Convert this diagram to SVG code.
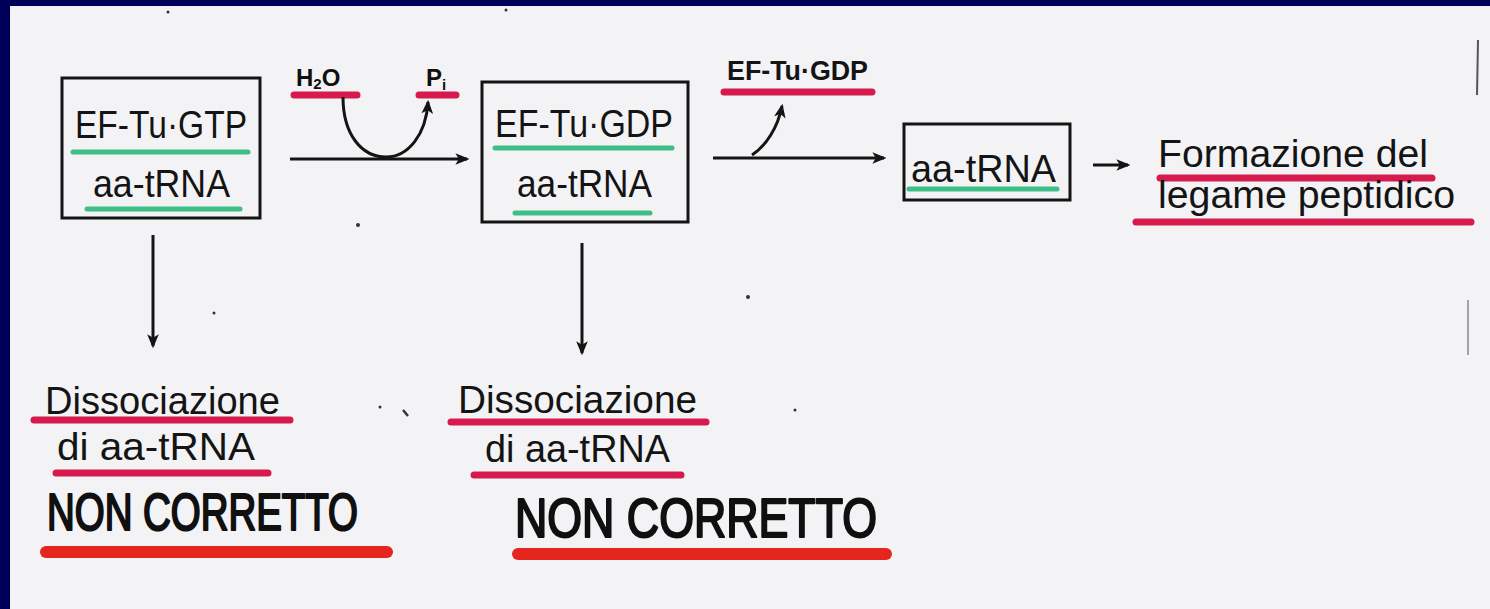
<svg xmlns="http://www.w3.org/2000/svg" width="1490" height="609" viewBox="0 0 1490 609">
<defs>
<style>
.t{font-family:"Liberation Sans",Arial,sans-serif;fill:#141414;font-size:38px}
.b{font-family:"Liberation Sans",Arial,sans-serif;fill:#141414;font-weight:bold}
.h{font-family:"Liberation Sans",Arial,sans-serif;fill:#101010;font-weight:bold}
.hw{font-family:"Liberation Sans",Arial,sans-serif;fill:#101010;stroke:#101010;stroke-width:1.6;stroke-linejoin:round}
.box{fill:none;stroke:#141414;stroke-width:3}
.g{stroke:#3fbf88;stroke-width:5;stroke-linecap:round;fill:none}
.m{stroke:#d61a4e;stroke-width:7;stroke-linecap:round;fill:none}
.r{stroke:#e4261e;stroke-width:12;stroke-linecap:round;fill:none}
.c{stroke:#141414;stroke-width:3;fill:none}
</style>
<marker id="ah" viewBox="0 0 12 10" refX="10" refY="5" markerWidth="14" markerHeight="12" markerUnits="userSpaceOnUse" orient="auto">
<path d="M0,0 L12,5 L0,10 L3,5 z" fill="#141414"/>
</marker>
</defs>
<rect x="0" y="0" width="1490" height="609" fill="#00005a"/>
<rect x="10" y="6" width="1480" height="603" fill="#f3f2f5"/>

<g id="box1">
<rect class="box" x="62" y="78" width="198" height="140"/>
<line class="g" x1="73" y1="152" x2="248" y2="152"/>
<line class="g" x1="87" y1="209" x2="240" y2="209"/>
<text class="t" x="75" y="138" textLength="172" lengthAdjust="spacingAndGlyphs">EF-Tu·GTP</text>
<text class="t" x="93" y="197" textLength="137" lengthAdjust="spacingAndGlyphs">aa-tRNA</text>
</g>

<g id="h2o">
<line class="m" x1="294" y1="95" x2="357" y2="95"/>
<text class="h" x="296" y="86" font-size="24">H<tspan font-size="15" dy="3">2</tspan><tspan dy="-3">O</tspan></text>
</g>
<g id="pi">
<line class="m" x1="419" y1="95" x2="456" y2="95"/>
<text class="h" x="426" y="86" font-size="24">P<tspan font-size="15" dy="4">i</tspan></text>
</g>

<g id="box2">
<rect class="box" x="482" y="82" width="206" height="140"/>
<line class="g" x1="495" y1="148" x2="672" y2="148"/>
<line class="g" x1="515" y1="213" x2="650" y2="213"/>
<text class="t" x="495" y="137" textLength="178" lengthAdjust="spacingAndGlyphs">EF-Tu·GDP</text>
<text class="t" x="517" y="197" textLength="135" lengthAdjust="spacingAndGlyphs">aa-tRNA</text>
</g>

<g id="eftugdp">
<line class="m" x1="724" y1="92" x2="872" y2="92"/>
<text class="b" x="727" y="80" font-size="27" textLength="141" lengthAdjust="spacingAndGlyphs">EF-Tu·GDP</text>
</g>

<g id="box3">
<rect class="box" x="904" y="124" width="166" height="76"/>
<line class="g" x1="909" y1="189" x2="1057" y2="189"/>
<text class="t" x="911" y="182" textLength="145" lengthAdjust="spacingAndGlyphs">aa-tRNA</text>
</g>

<g id="peptide">
<line class="m" x1="1160" y1="178" x2="1432" y2="178" stroke="#d41a62"/>
<line class="m" x1="1136" y1="222" x2="1471" y2="222" stroke="#e31c2c" stroke-width="8"/>
<text class="t" x="1158" y="167" textLength="270" lengthAdjust="spacingAndGlyphs">Formazione del</text>
<text class="t" x="1158" y="208" textLength="297" lengthAdjust="spacingAndGlyphs">legame peptidico</text>
</g>

<g id="diss1">
<line class="m" x1="34" y1="420" x2="290" y2="420"/>
<line class="m" x1="56" y1="473" x2="268" y2="473"/>
<line class="r" x1="46" y1="552" x2="387" y2="552"/>
<text class="t" x="45" y="414" textLength="235" lengthAdjust="spacingAndGlyphs">Dissociazione</text>
<text class="t" x="57" y="460" textLength="198" lengthAdjust="spacingAndGlyphs">di aa-tRNA</text>
<text class="hw" transform="translate(47,530) scale(1,1.38)" x="0" y="0" font-size="38" textLength="311" lengthAdjust="spacingAndGlyphs">NON CORRETTO</text>
</g>

<g id="diss2">
<line class="m" x1="451" y1="422" x2="706" y2="422"/>
<line class="m" x1="474" y1="475" x2="681" y2="475"/>
<line class="r" x1="518" y1="554" x2="886" y2="554"/>
<text class="t" x="458" y="413" textLength="239" lengthAdjust="spacingAndGlyphs">Dissociazione</text>
<text class="t" x="485" y="462" textLength="185" lengthAdjust="spacingAndGlyphs">di aa-tRNA</text>
<text class="hw" transform="translate(515,537) scale(1,1.4)" x="0" y="0" font-size="40" textLength="362" lengthAdjust="spacingAndGlyphs">NON CORRETTO</text>
</g>

<g id="connectors">
<line class="c" x1="290" y1="159" x2="467" y2="159" marker-end="url(#ah)"/>
<path class="c" d="M343,97 C343,135 362,157 386,157 C408,157 426,135 428,102" marker-end="url(#ah)"/>
<line class="c" x1="713" y1="158" x2="884" y2="158" marker-end="url(#ah)"/>
<path class="c" d="M752,155 C766,146 778,127 782,106" stroke-width="2.5" marker-end="url(#ah)"/>
<line class="c" x1="1093" y1="165" x2="1128" y2="165" stroke-width="5" marker-end="url(#ah)"/>
<line class="c" x1="153" y1="235" x2="153" y2="346" stroke-width="2.5" marker-end="url(#ah)"/>
<line class="c" x1="582" y1="243" x2="582" y2="353" stroke-width="2.5" marker-end="url(#ah)"/>
</g>

<g id="specks" fill="#333">
<circle cx="358" cy="225" r="2"/>
<circle cx="168" cy="12" r="1.5"/>
<circle cx="506" cy="10" r="1.5"/>
<circle cx="380" cy="407" r="1.5"/>
<path d="M403,410 L408,416" stroke="#333" stroke-width="2.5"/>
<circle cx="748" cy="297" r="2"/>
<circle cx="795" cy="410" r="1.5"/>
<circle cx="214" cy="313" r="1.5"/>
</g>
<line x1="1478" y1="40" x2="1477" y2="95" stroke="#555" stroke-width="2"/>
<line x1="1468" y1="300" x2="1468" y2="355" stroke="#888" stroke-width="1.5"/>
</svg>
